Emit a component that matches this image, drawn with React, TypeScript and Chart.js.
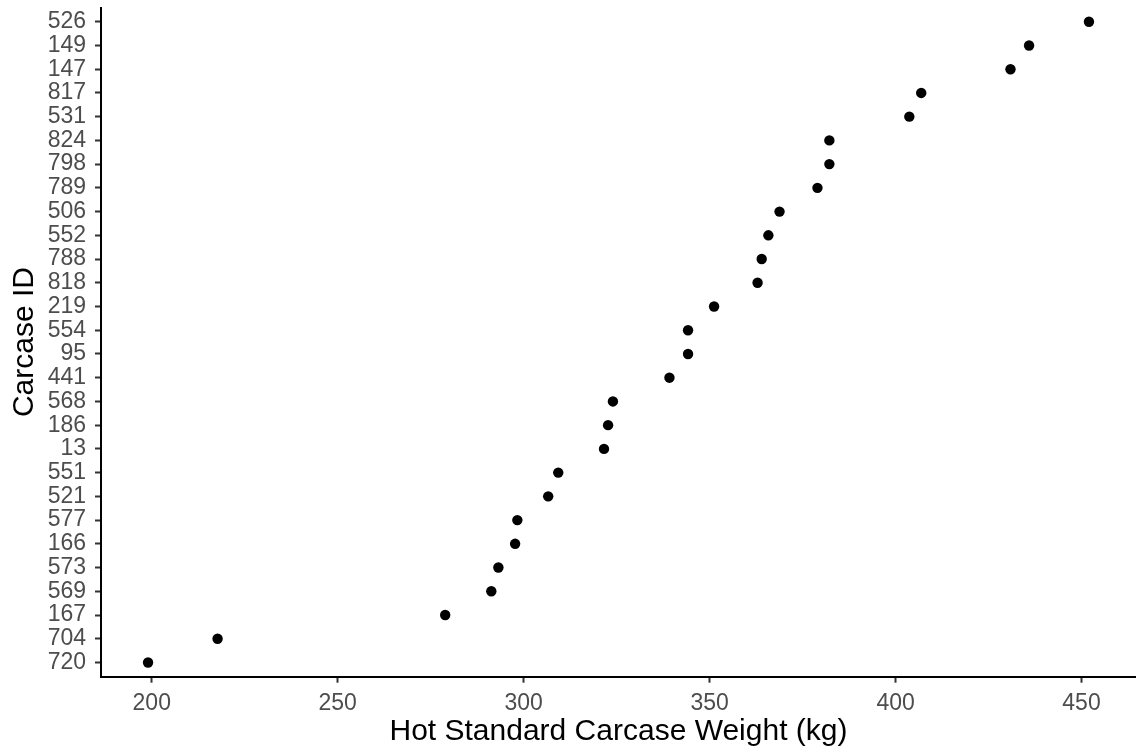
import React, { useEffect, useRef } from "react";
import { Chart, registerables } from "chart.js";

Chart.register(...registerables);

// Carcase IDs, bottom to top
const carcaseIds = [
  "720", "704", "167", "569", "573", "166", "577", "521", "551", "13",
  "186", "568", "441", "95", "554", "219", "818", "788", "552", "506",
  "789", "798", "824", "531", "817", "147", "149", "526",
];

// Hot standard carcase weight (kg), same order as carcaseIds
const weights = [
  199, 217.7, 278.9, 291.3, 293.2, 297.7, 298.3, 306.6, 309.3, 321.6,
  322.7, 324, 339.2, 344.2, 344.2, 351.2, 362.9, 364, 365.8, 368.8,
  379, 382.2, 382.2, 403.7, 406.9, 430.9, 435.9, 452,
];

const xTickValues = [200, 250, 300, 350, 400, 450];
const xTitle = "Hot Standard Carcase Weight (kg)";
const yTitle = "Carcase ID";

const W = 1136;
const H = 751;
const FONT = "'Liberation Sans', Arial, sans-serif";

export default function App() {
  const ref = useRef<HTMLCanvasElement | null>(null);

  useEffect(() => {
    document.body.style.margin = "0";
    const canvas = ref.current;
    if (!canvas) return;
    const points = weights.map((w, i) => ({ x: w, y: i }));
    const dataMin = Math.min(...weights);
    const dataMax = Math.max(...weights);
    const span = dataMax - dataMin;
    const chart = new Chart(canvas, {
      type: "scatter",
      data: {
        datasets: [
          {
            data: points,
            backgroundColor: "#000000",
            borderColor: "#000000",
            borderWidth: 0,
            pointRadius: 5.2,
            pointHoverRadius: 5.2,
          },
        ],
      },
      options: {
        responsive: false,
        animation: false,
        events: [],
        layout: { autoPadding: false, padding: { top: 7.5, right: 0, left: 0, bottom: 0 } },
        plugins: {
          legend: { display: false },
          tooltip: { enabled: false },
        },
        scales: {
          x: {
            type: "linear",
            position: "bottom",
            min: dataMin - span * 0.05,
            max: dataMax + span * 0.05,
            afterBuildTicks: (scale: any) => {
              scale.ticks = xTickValues.map((v) => ({ value: v }));
            },
            afterFit: (scale: any) => {
              scale.height = 74.3;
              scale.paddingLeft = 0;
              scale.paddingRight = 0;
            },
            border: { display: true, color: "#000000", width: 2 },
            grid: {
              drawOnChartArea: false,
              drawTicks: true,
              tickLength: 6,
              tickColor: "#333333",
              tickWidth: 2,
            },
            ticks: {
              color: "#4D4D4D",
              padding: 7,
              font: { family: FONT, size: 23 },
              maxRotation: 0,
              autoSkip: false,
              callback: (v: any) => String(v),
            },
            title: {
              display: true,
              text: xTitle,
              color: "#000000",
              padding: { top: 0, bottom: 1.5 },
              font: { family: FONT, size: 30 },
            },
          },
          y: {
            type: "linear",
            position: "left",
            min: -0.6,
            max: carcaseIds.length - 1 + 0.6,
            afterBuildTicks: (scale: any) => {
              scale.ticks = carcaseIds.map((_, i) => ({ value: i }));
            },
            afterFit: (scale: any) => {
              scale.width = 101;
              scale.paddingTop = 0;
              scale.paddingBottom = 0;
            },
            border: { display: true, color: "#000000", width: 2 },
            grid: {
              drawOnChartArea: false,
              drawTicks: true,
              tickLength: 6,
              tickColor: "#333333",
              tickWidth: 2,
            },
            ticks: {
              color: "#4D4D4D",
              padding: 9,
              autoSkip: false,
              font: { family: FONT, size: 23 },
              callback: (v: any) => carcaseIds[Math.round(Number(v))] ?? "",
            },
            title: {
              display: true,
              text: yTitle,
              color: "#000000",
              padding: { top: 6.5, bottom: 0 },
              font: { family: FONT, size: 30 },
            },
          },
        },
      },
    });
    return () => chart.destroy();
  }, []);

  return (
    <div style={{ position: "absolute", left: 0, top: 0, width: W, height: H, background: "#ffffff" }}>
      <canvas ref={ref} width={W} height={H} style={{ display: "block", width: W, height: H }} />
    </div>
  );
}
